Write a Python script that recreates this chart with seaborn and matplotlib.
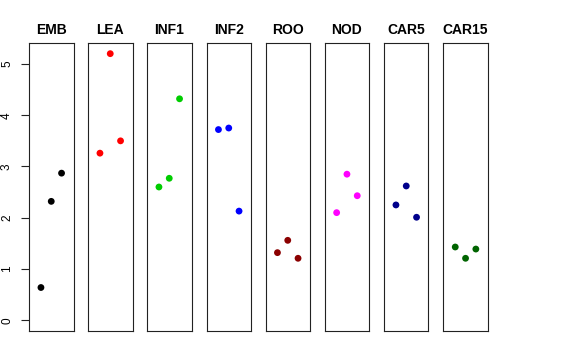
import matplotlib
matplotlib.use("Agg")
import matplotlib.pyplot as plt
import seaborn as sns
import pandas as pd

sns.set_style("white")
plt.rcParams['font.family'] = ['Liberation Sans', 'DejaVu Sans']
plt.rcParams['text.color'] = 'black'
plt.rcParams['ytick.color'] = 'black'
plt.rcParams['axes.labelcolor'] = 'black'

groups = ["EMB", "LEA", "INF1", "INF2", "ROO", "NOD", "CAR5", "CAR15"]
colors = ["#000000", "#FF0000", "#00CD00", "#0000FF", "#8B0000", "#FF00FF", "#00008B", "#006400"]
replicate = [1, 2, 3]
emb = [0.64, 2.32, 2.87]
lea = [3.26, 5.20, 3.50]
inf1 = [2.60, 2.77, 4.32]
inf2 = [3.72, 3.75, 2.13]
roo = [1.32, 1.56, 1.21]
nod = [2.10, 2.85, 2.43]
car5 = [2.25, 2.62, 2.01]
car15 = [1.43, 1.21, 1.39]
values = [emb, lea, inf1, inf2, roo, nod, car5, car15]
y_ticks = [0, 1, 2, 3, 4, 5]

rows = []
for g, vals in zip(groups, values):
    for r, v in zip(replicate, vals):
        rows.append({"group": g, "rep": r, "value": v})
df = pd.DataFrame(rows)

W, H = 576, 360
fig = plt.figure(figsize=(W / 100, H / 100), dpi=100)
lefts = [29, 88, 147, 206.5, 265.5, 324.7, 384, 443.3]
pw = 44.5
top, bottom = 43, 331

for i, (g, c) in enumerate(zip(groups, colors)):
    ax = fig.add_axes([lefts[i] / W, 1 - bottom / H, pw / W, (bottom - top) / H])
    sub = df[df["group"] == g]
    sns.scatterplot(data=sub, x="rep", y="value", color=c, s=24, edgecolor="none",
                    linewidth=0, ax=ax, legend=False)
    ax.set_xlim(-0.16, 4.16)
    ax.set_ylim(-0.208, 5.408)
    ax.set_xlabel("")
    ax.set_ylabel("")
    ax.set_xticks([])
    ax.set_title(g, fontsize=10, fontweight="bold", pad=6.5, color="black")
    for sp in ax.spines.values():
        sp.set_color("#222222")
        sp.set_linewidth(0.8)
    if i == 0:
        ax.set_yticks(y_ticks)
        ax.set_yticklabels([str(t) for t in y_ticks], rotation=90, va="center", fontsize=8.5)
        ax.tick_params(axis="y", length=5.5, width=0.8, pad=6, color="#222222",
                       labelcolor="black", left=True)
    else:
        ax.set_yticks([])

fig.savefig("out.png", dpi=100)
